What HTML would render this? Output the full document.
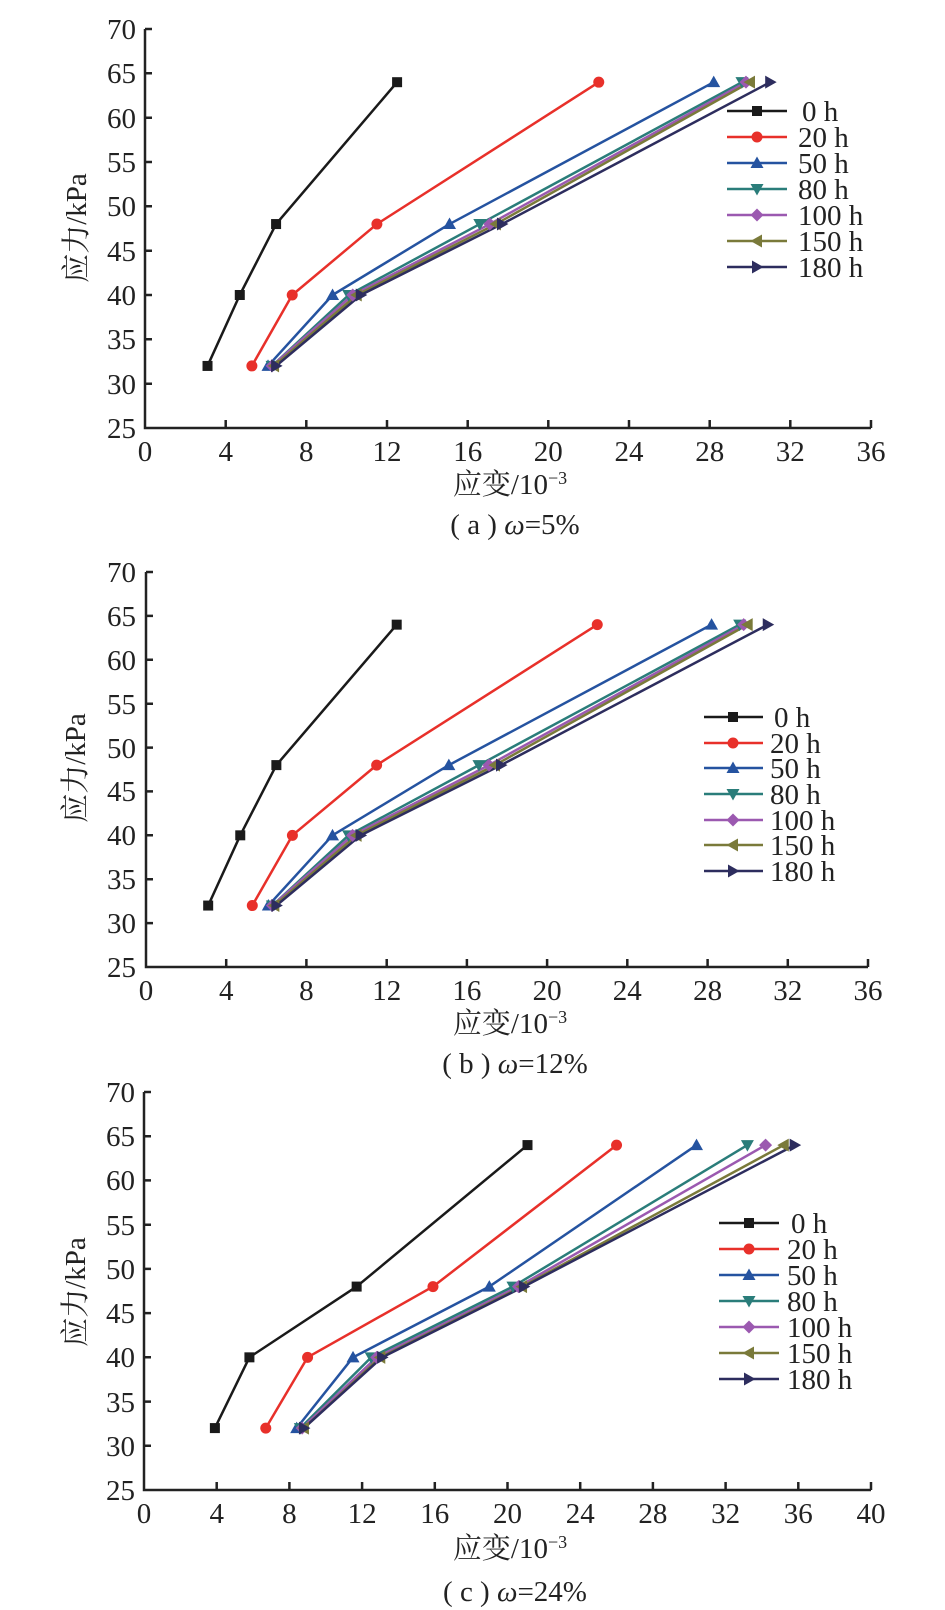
<!DOCTYPE html>
<html><head><meta charset="utf-8">
<style>
html,body{margin:0;padding:0;background:#fff;}
svg{display:block;}
text{font-family:"Liberation Serif","Noto Serif CJK SC",serif;fill:#222;font-size:29px;}
tspan[font-size="16"]{font-size:18px;}
</style></head>
<body>
<svg width="945" height="1610" viewBox="0 0 945 1610" xmlns="http://www.w3.org/2000/svg">
<defs>
<rect id="sq" x="-5" y="-5" width="10" height="10"/>
<circle id="ci" r="5.5"/>
<polygon id="tu" points="0,-6.5 6.5,5 -6.5,5"/>
<polygon id="td" points="0,6.5 6.5,-5 -6.5,-5"/>
<polygon id="di" points="0,-6.5 6.5,0 0,6.5 -6.5,0"/>
<polygon id="tl" points="-6.5,0 5,-6.5 5,6.5"/>
<polygon id="tr" points="6.5,0 -5,-6.5 -5,6.5"/>

<g id="a-sq" transform="scale(0.04959 -0.11278)"><use href="#sq"/></g>
<g id="a-ci" transform="scale(0.04959 -0.11278)"><use href="#ci"/></g>
<g id="a-tu" transform="scale(0.04959 -0.11278)"><use href="#tu"/></g>
<g id="a-td" transform="scale(0.04959 -0.11278)"><use href="#td"/></g>
<g id="a-di" transform="scale(0.04959 -0.11278)"><use href="#di"/></g>
<g id="a-tl" transform="scale(0.04959 -0.11278)"><use href="#tl"/></g>
<g id="a-tr" transform="scale(0.04959 -0.11278)"><use href="#tr"/></g>

<g id="b-sq" transform="scale(0.04986 -0.11392)"><use href="#sq"/></g>
<g id="b-ci" transform="scale(0.04986 -0.11392)"><use href="#ci"/></g>
<g id="b-tu" transform="scale(0.04986 -0.11392)"><use href="#tu"/></g>
<g id="b-td" transform="scale(0.04986 -0.11392)"><use href="#td"/></g>
<g id="b-di" transform="scale(0.04986 -0.11392)"><use href="#di"/></g>
<g id="b-tl" transform="scale(0.04986 -0.11392)"><use href="#tl"/></g>
<g id="b-tr" transform="scale(0.04986 -0.11392)"><use href="#tr"/></g>

<g id="c-sq" transform="scale(0.05502 -0.11307)"><use href="#sq"/></g>
<g id="c-ci" transform="scale(0.05502 -0.11307)"><use href="#ci"/></g>
<g id="c-tu" transform="scale(0.05502 -0.11307)"><use href="#tu"/></g>
<g id="c-td" transform="scale(0.05502 -0.11307)"><use href="#td"/></g>
<g id="c-di" transform="scale(0.05502 -0.11307)"><use href="#di"/></g>
<g id="c-tl" transform="scale(0.05502 -0.11307)"><use href="#tl"/></g>
<g id="c-tr" transform="scale(0.05502 -0.11307)"><use href="#tr"/></g>
</defs>

<!-- ================= CHART A ================= -->
<g stroke="#222" stroke-width="2.5" fill="none">
<path d="M145 29 V428 H871"/>
<path d="M145 29h7M145 73.3h7M145 117.7h7M145 162h7M145 206.3h7M145 250.7h7M145 295h7M145 339.3h7M145 383.7h7"/>
<path d="M225.7 428v-8M306.3 428v-8M387 428v-8M467.7 428v-8M548.3 428v-8M629 428v-8M709.7 428v-8M790.3 428v-8M871 428v-8"/>
</g>
<g font-size="26" text-anchor="end">
<text x="136" y="39">70</text><text x="136" y="83">65</text><text x="136" y="128">60</text><text x="136" y="172">55</text><text x="136" y="216">50</text><text x="136" y="261">45</text><text x="136" y="305">40</text><text x="136" y="349">35</text><text x="136" y="394">30</text><text x="136" y="438">25</text>
</g>
<g font-size="26" text-anchor="middle">
<text x="145" y="461">0</text><text x="225.7" y="461">4</text><text x="306.3" y="461">8</text><text x="387" y="461">12</text><text x="467.7" y="461">16</text><text x="548.3" y="461">20</text><text x="629" y="461">24</text><text x="709.7" y="461">28</text><text x="790.3" y="461">32</text><text x="871" y="461">36</text>
</g>
<text x="510" y="494" font-size="26" text-anchor="middle">应变/10<tspan dy="-10" font-size="16">−3</tspan></text>
<text x="515" y="534" font-size="26" text-anchor="middle">( a ) <tspan font-style="italic">ω</tspan>=5%</text>
<text transform="translate(86 228) rotate(-90)" font-size="26" text-anchor="middle">应力/kPa</text>

<g transform="translate(145 428) scale(20.167 -8.867)">
<g fill="none" stroke-width="2.5" stroke-linejoin="round">
<polyline vector-effect="non-scaling-stroke" stroke="#1a1a1a" points="3.1,7 4.7,15 6.5,23 12.5,39"/>
<polyline vector-effect="non-scaling-stroke" stroke="#e8302a" points="5.3,7 7.3,15 11.5,23 22.5,39"/>
<polyline vector-effect="non-scaling-stroke" stroke="#2553a0" points="6.1,7 9.3,15 15.1,23 28.2,39"/>
<polyline vector-effect="non-scaling-stroke" stroke="#2a7d7a" points="6.3,7 10.1,15 16.6,23 29.6,39"/>
<polyline vector-effect="non-scaling-stroke" stroke="#9b59b0" points="6.3,7 10.3,15 17.1,23 29.8,39"/>
<polyline vector-effect="non-scaling-stroke" stroke="#7a7a3a" points="6.4,7 10.5,15 17.4,23 30.0,39"/>
<polyline vector-effect="non-scaling-stroke" stroke="#2d2d5e" points="6.5,7 10.7,15 17.7,23 31.0,39"/>
</g>
<g fill="#1a1a1a"><use href="#a-sq" x="3.1" y="7"/><use href="#a-sq" x="4.7" y="15"/><use href="#a-sq" x="6.5" y="23"/><use href="#a-sq" x="12.5" y="39"/></g>
<g fill="#e8302a"><use href="#a-ci" x="5.3" y="7"/><use href="#a-ci" x="7.3" y="15"/><use href="#a-ci" x="11.5" y="23"/><use href="#a-ci" x="22.5" y="39"/></g>
<g fill="#2553a0"><use href="#a-tu" x="6.1" y="7"/><use href="#a-tu" x="9.3" y="15"/><use href="#a-tu" x="15.1" y="23"/><use href="#a-tu" x="28.2" y="39"/></g>
<g fill="#2a7d7a"><use href="#a-td" x="6.3" y="7"/><use href="#a-td" x="10.1" y="15"/><use href="#a-td" x="16.6" y="23"/><use href="#a-td" x="29.6" y="39"/></g>
<g fill="#9b59b0"><use href="#a-di" x="6.3" y="7"/><use href="#a-di" x="10.3" y="15"/><use href="#a-di" x="17.1" y="23"/><use href="#a-di" x="29.8" y="39"/></g>
<g fill="#7a7a3a"><use href="#a-tl" x="6.4" y="7"/><use href="#a-tl" x="10.5" y="15"/><use href="#a-tl" x="17.4" y="23"/><use href="#a-tl" x="30.0" y="39"/></g>
<g fill="#2d2d5e"><use href="#a-tr" x="6.5" y="7"/><use href="#a-tr" x="10.7" y="15"/><use href="#a-tr" x="17.7" y="23"/><use href="#a-tr" x="31.0" y="39"/></g>
</g>
<g stroke-width="2.5">
<line x1="727" y1="111" x2="787" y2="111" stroke="#1a1a1a"/><use href="#sq" x="757" y="111" fill="#1a1a1a"/>
<line x1="727" y1="137" x2="787" y2="137" stroke="#e8302a"/><use href="#ci" x="757" y="137" fill="#e8302a"/>
<line x1="727" y1="163" x2="787" y2="163" stroke="#2553a0"/><use href="#tu" x="757" y="163" fill="#2553a0"/>
<line x1="727" y1="189" x2="787" y2="189" stroke="#2a7d7a"/><use href="#td" x="757" y="189" fill="#2a7d7a"/>
<line x1="727" y1="215" x2="787" y2="215" stroke="#9b59b0"/><use href="#di" x="757" y="215" fill="#9b59b0"/>
<line x1="727" y1="241" x2="787" y2="241" stroke="#7a7a3a"/><use href="#tl" x="757" y="241" fill="#7a7a3a"/>
<line x1="727" y1="267" x2="787" y2="267" stroke="#2d2d5e"/><use href="#tr" x="757" y="267" fill="#2d2d5e"/>
</g>
<g font-size="26">
<text x="802" y="121">0 h</text><text x="798" y="147">20 h</text><text x="798" y="173">50 h</text><text x="798" y="199">80 h</text><text x="798" y="225">100 h</text><text x="798" y="251">150 h</text><text x="798" y="277">180 h</text>
</g>

<!-- ================= CHART B ================= -->
<g stroke="#222" stroke-width="2.5" fill="none">
<path d="M146 572 V967 H868"/>
<path d="M146 572h7M146 615.9h7M146 659.8h7M146 703.7h7M146 747.6h7M146 791.4h7M146 835.3h7M146 879.2h7M146 923.1h7"/>
<path d="M226.2 967v-8M306.4 967v-8M386.7 967v-8M466.9 967v-8M547.1 967v-8M627.3 967v-8M707.6 967v-8M787.8 967v-8M868 967v-8"/>
</g>
<g font-size="26" text-anchor="end">
<text x="136" y="582">70</text><text x="136" y="626">65</text><text x="136" y="670">60</text><text x="136" y="714">55</text><text x="136" y="758">50</text><text x="136" y="801">45</text><text x="136" y="845">40</text><text x="136" y="889">35</text><text x="136" y="933">30</text><text x="136" y="977">25</text>
</g>
<g font-size="26" text-anchor="middle">
<text x="146" y="1000">0</text><text x="226.2" y="1000">4</text><text x="306.4" y="1000">8</text><text x="386.7" y="1000">12</text><text x="466.9" y="1000">16</text><text x="547.1" y="1000">20</text><text x="627.3" y="1000">24</text><text x="707.6" y="1000">28</text><text x="787.8" y="1000">32</text><text x="868" y="1000">36</text>
</g>
<text x="510" y="1033" font-size="26" text-anchor="middle">应变/10<tspan dy="-10" font-size="16">−3</tspan></text>
<text x="515" y="1073" font-size="26" text-anchor="middle">( b ) <tspan font-style="italic">ω</tspan>=12%</text>
<text transform="translate(85 768) rotate(-90)" font-size="26" text-anchor="middle">应力/kPa</text>

<g transform="translate(146 967) scale(20.056 -8.778)">
<g fill="none" stroke-width="2.5" stroke-linejoin="round">
<polyline vector-effect="non-scaling-stroke" stroke="#1a1a1a" points="3.1,7 4.7,15 6.5,23 12.5,39"/>
<polyline vector-effect="non-scaling-stroke" stroke="#e8302a" points="5.3,7 7.3,15 11.5,23 22.5,39"/>
<polyline vector-effect="non-scaling-stroke" stroke="#2553a0" points="6.1,7 9.3,15 15.1,23 28.2,39"/>
<polyline vector-effect="non-scaling-stroke" stroke="#2a7d7a" points="6.3,7 10.1,15 16.6,23 29.6,39"/>
<polyline vector-effect="non-scaling-stroke" stroke="#9b59b0" points="6.3,7 10.3,15 17.1,23 29.8,39"/>
<polyline vector-effect="non-scaling-stroke" stroke="#7a7a3a" points="6.4,7 10.5,15 17.4,23 30.0,39"/>
<polyline vector-effect="non-scaling-stroke" stroke="#2d2d5e" points="6.5,7 10.7,15 17.7,23 31.0,39"/>
</g>
<g fill="#1a1a1a"><use href="#b-sq" x="3.1" y="7"/><use href="#b-sq" x="4.7" y="15"/><use href="#b-sq" x="6.5" y="23"/><use href="#b-sq" x="12.5" y="39"/></g>
<g fill="#e8302a"><use href="#b-ci" x="5.3" y="7"/><use href="#b-ci" x="7.3" y="15"/><use href="#b-ci" x="11.5" y="23"/><use href="#b-ci" x="22.5" y="39"/></g>
<g fill="#2553a0"><use href="#b-tu" x="6.1" y="7"/><use href="#b-tu" x="9.3" y="15"/><use href="#b-tu" x="15.1" y="23"/><use href="#b-tu" x="28.2" y="39"/></g>
<g fill="#2a7d7a"><use href="#b-td" x="6.3" y="7"/><use href="#b-td" x="10.1" y="15"/><use href="#b-td" x="16.6" y="23"/><use href="#b-td" x="29.6" y="39"/></g>
<g fill="#9b59b0"><use href="#b-di" x="6.3" y="7"/><use href="#b-di" x="10.3" y="15"/><use href="#b-di" x="17.1" y="23"/><use href="#b-di" x="29.8" y="39"/></g>
<g fill="#7a7a3a"><use href="#b-tl" x="6.4" y="7"/><use href="#b-tl" x="10.5" y="15"/><use href="#b-tl" x="17.4" y="23"/><use href="#b-tl" x="30.0" y="39"/></g>
<g fill="#2d2d5e"><use href="#b-tr" x="6.5" y="7"/><use href="#b-tr" x="10.7" y="15"/><use href="#b-tr" x="17.7" y="23"/><use href="#b-tr" x="31.0" y="39"/></g>
</g>
<g stroke-width="2.5">
<line x1="704" y1="717" x2="763" y2="717" stroke="#1a1a1a"/><use href="#sq" x="733" y="717" fill="#1a1a1a"/>
<line x1="704" y1="743" x2="763" y2="743" stroke="#e8302a"/><use href="#ci" x="733" y="743" fill="#e8302a"/>
<line x1="704" y1="768" x2="763" y2="768" stroke="#2553a0"/><use href="#tu" x="733" y="768" fill="#2553a0"/>
<line x1="704" y1="794" x2="763" y2="794" stroke="#2a7d7a"/><use href="#td" x="733" y="794" fill="#2a7d7a"/>
<line x1="704" y1="820" x2="763" y2="820" stroke="#9b59b0"/><use href="#di" x="733" y="820" fill="#9b59b0"/>
<line x1="704" y1="845" x2="763" y2="845" stroke="#7a7a3a"/><use href="#tl" x="733" y="845" fill="#7a7a3a"/>
<line x1="704" y1="871" x2="763" y2="871" stroke="#2d2d5e"/><use href="#tr" x="733" y="871" fill="#2d2d5e"/>
</g>
<g font-size="26">
<text x="774" y="727">0 h</text><text x="770" y="753">20 h</text><text x="770" y="778">50 h</text><text x="770" y="804">80 h</text><text x="770" y="830">100 h</text><text x="770" y="855">150 h</text><text x="770" y="881">180 h</text>
</g>

<!-- ================= CHART C ================= -->
<g stroke="#222" stroke-width="2.5" fill="none">
<path d="M144 1092 V1490 H871"/>
<path d="M144 1092h7M144 1136.2h7M144 1180.4h7M144 1224.7h7M144 1268.9h7M144 1313.1h7M144 1357.3h7M144 1401.6h7M144 1445.8h7"/>
<path d="M216.7 1490v-8M289.4 1490v-8M362.1 1490v-8M434.8 1490v-8M507.5 1490v-8M580.2 1490v-8M652.9 1490v-8M725.6 1490v-8M798.3 1490v-8M871 1490v-8"/>
</g>
<g font-size="26" text-anchor="end">
<text x="135" y="1102">70</text><text x="135" y="1146">65</text><text x="135" y="1190">60</text><text x="135" y="1235">55</text><text x="135" y="1279">50</text><text x="135" y="1323">45</text><text x="135" y="1367">40</text><text x="135" y="1412">35</text><text x="135" y="1456">30</text><text x="135" y="1500">25</text>
</g>
<g font-size="26" text-anchor="middle">
<text x="144" y="1523">0</text><text x="216.7" y="1523">4</text><text x="289.4" y="1523">8</text><text x="362.1" y="1523">12</text><text x="434.8" y="1523">16</text><text x="507.5" y="1523">20</text><text x="580.2" y="1523">24</text><text x="652.9" y="1523">28</text><text x="725.6" y="1523">32</text><text x="798.3" y="1523">36</text><text x="871" y="1523">40</text>
</g>
<text x="510" y="1558" font-size="26" text-anchor="middle">应变/10<tspan dy="-10" font-size="16">−3</tspan></text>
<text x="515" y="1601" font-size="26" text-anchor="middle">( c ) <tspan font-style="italic">ω</tspan>=24%</text>
<text transform="translate(85 1292) rotate(-90)" font-size="26" text-anchor="middle">应力/kPa</text>

<g transform="translate(144 1490) scale(18.175 -8.844)">
<g fill="none" stroke-width="2.5" stroke-linejoin="round">
<polyline vector-effect="non-scaling-stroke" stroke="#1a1a1a" points="3.9,7 5.8,15 11.7,23 21.1,39"/>
<polyline vector-effect="non-scaling-stroke" stroke="#e8302a" points="6.7,7 9.0,15 15.9,23 26.0,39"/>
<polyline vector-effect="non-scaling-stroke" stroke="#2553a0" points="8.4,7 11.5,15 19.0,23 30.4,39"/>
<polyline vector-effect="non-scaling-stroke" stroke="#2a7d7a" points="8.6,7 12.5,15 20.3,23 33.2,39"/>
<polyline vector-effect="non-scaling-stroke" stroke="#9b59b0" points="8.7,7 12.8,15 20.6,23 34.2,39"/>
<polyline vector-effect="non-scaling-stroke" stroke="#7a7a3a" points="8.8,7 13.0,15 20.8,23 35.2,39"/>
<polyline vector-effect="non-scaling-stroke" stroke="#2d2d5e" points="8.8,7 13.1,15 20.9,23 35.8,39"/>
</g>
<g fill="#1a1a1a"><use href="#c-sq" x="3.9" y="7"/><use href="#c-sq" x="5.8" y="15"/><use href="#c-sq" x="11.7" y="23"/><use href="#c-sq" x="21.1" y="39"/></g>
<g fill="#e8302a"><use href="#c-ci" x="6.7" y="7"/><use href="#c-ci" x="9.0" y="15"/><use href="#c-ci" x="15.9" y="23"/><use href="#c-ci" x="26.0" y="39"/></g>
<g fill="#2553a0"><use href="#c-tu" x="8.4" y="7"/><use href="#c-tu" x="11.5" y="15"/><use href="#c-tu" x="19.0" y="23"/><use href="#c-tu" x="30.4" y="39"/></g>
<g fill="#2a7d7a"><use href="#c-td" x="8.6" y="7"/><use href="#c-td" x="12.5" y="15"/><use href="#c-td" x="20.3" y="23"/><use href="#c-td" x="33.2" y="39"/></g>
<g fill="#9b59b0"><use href="#c-di" x="8.7" y="7"/><use href="#c-di" x="12.8" y="15"/><use href="#c-di" x="20.6" y="23"/><use href="#c-di" x="34.2" y="39"/></g>
<g fill="#7a7a3a"><use href="#c-tl" x="8.8" y="7"/><use href="#c-tl" x="13.0" y="15"/><use href="#c-tl" x="20.8" y="23"/><use href="#c-tl" x="35.2" y="39"/></g>
<g fill="#2d2d5e"><use href="#c-tr" x="8.8" y="7"/><use href="#c-tr" x="13.1" y="15"/><use href="#c-tr" x="20.9" y="23"/><use href="#c-tr" x="35.8" y="39"/></g>
</g>
<g stroke-width="2.5">
<line x1="719" y1="1223" x2="779" y2="1223" stroke="#1a1a1a"/><use href="#sq" x="749" y="1223" fill="#1a1a1a"/>
<line x1="719" y1="1249" x2="779" y2="1249" stroke="#e8302a"/><use href="#ci" x="749" y="1249" fill="#e8302a"/>
<line x1="719" y1="1275" x2="779" y2="1275" stroke="#2553a0"/><use href="#tu" x="749" y="1275" fill="#2553a0"/>
<line x1="719" y1="1301" x2="779" y2="1301" stroke="#2a7d7a"/><use href="#td" x="749" y="1301" fill="#2a7d7a"/>
<line x1="719" y1="1327" x2="779" y2="1327" stroke="#9b59b0"/><use href="#di" x="749" y="1327" fill="#9b59b0"/>
<line x1="719" y1="1353" x2="779" y2="1353" stroke="#7a7a3a"/><use href="#tl" x="749" y="1353" fill="#7a7a3a"/>
<line x1="719" y1="1379" x2="779" y2="1379" stroke="#2d2d5e"/><use href="#tr" x="749" y="1379" fill="#2d2d5e"/>
</g>
<g font-size="26">
<text x="791" y="1233">0 h</text><text x="787" y="1259">20 h</text><text x="787" y="1285">50 h</text><text x="787" y="1311">80 h</text><text x="787" y="1337">100 h</text><text x="787" y="1363">150 h</text><text x="787" y="1389">180 h</text>
</g>
</svg>
</body></html>
